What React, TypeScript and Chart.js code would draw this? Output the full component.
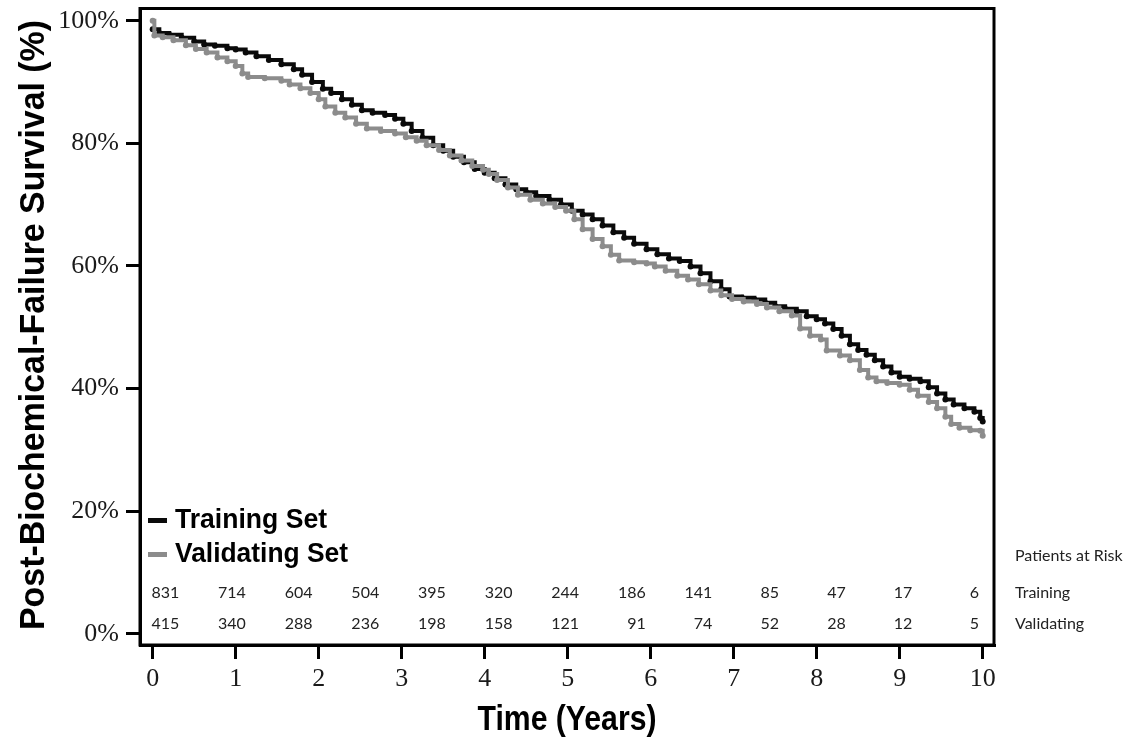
import React, { useEffect, useRef } from "react";
import { Chart, registerables } from "chart.js";

Chart.register(...registerables);

// ---- Data ----
const TRAIN_T = [0.0, 0.08, 0.2, 0.35, 0.5, 0.62, 0.75, 0.9, 1.0, 1.12, 1.25, 1.4, 1.55, 1.7, 1.8, 1.92, 2.05, 2.15, 2.28, 2.4, 2.52, 2.65, 2.8, 2.92, 3.02, 3.12, 3.25, 3.38, 3.5, 3.62, 3.75, 3.88, 4.0, 4.12, 4.25, 4.38, 4.5, 4.62, 4.78, 4.92, 5.05, 5.18, 5.3, 5.42, 5.55, 5.68, 5.8, 5.95, 6.08, 6.22, 6.35, 6.48, 6.6, 6.72, 6.85, 6.95, 7.1, 7.25, 7.38, 7.5, 7.62, 7.76, 7.88, 8.0, 8.1, 8.2, 8.3, 8.4, 8.5, 8.6, 8.7, 8.8, 8.9, 9.0, 9.12, 9.25, 9.35, 9.45, 9.55, 9.65, 9.78, 9.9, 9.97, 10.0];
const TRAIN_S = [98.6, 98.0, 97.7, 97.2, 96.6, 96.1, 95.9, 95.5, 95.3, 94.8, 94.2, 93.6, 92.9, 92.1, 91.2, 90.0, 88.9, 88.2, 87.2, 86.3, 85.4, 85.0, 84.6, 84.0, 83.2, 82.0, 80.9, 79.7, 78.8, 77.8, 76.9, 75.8, 75.2, 74.3, 73.3, 72.5, 72.0, 71.4, 70.8, 70.0, 69.0, 68.4, 67.6, 66.6, 65.5, 64.6, 63.6, 62.7, 61.9, 61.2, 60.8, 59.9, 58.8, 57.5, 56.2, 55.0, 54.8, 54.5, 54.0, 53.4, 53.0, 52.6, 51.8, 51.3, 50.6, 49.7, 48.6, 47.2, 46.3, 45.5, 44.6, 43.6, 42.6, 41.9, 41.6, 41.2, 40.2, 39.2, 38.2, 37.4, 36.8, 36.2, 35.2, 34.6];

const VALID_T = [0.0, 0.02, 0.12, 0.25, 0.4, 0.52, 0.65, 0.78, 0.9, 1.0, 1.08, 1.15, 1.35, 1.55, 1.65, 1.78, 1.9, 2.0, 2.08, 2.2, 2.32, 2.45, 2.58, 2.75, 2.92, 3.05, 3.18, 3.3, 3.45, 3.58, 3.72, 3.85, 3.98, 4.05, 4.15, 4.28, 4.4, 4.55, 4.7, 4.85, 4.98, 5.08, 5.18, 5.3, 5.42, 5.52, 5.62, 5.8, 5.95, 6.05, 6.18, 6.32, 6.45, 6.58, 6.72, 6.85, 6.98, 7.12, 7.28, 7.4, 7.55, 7.7, 7.8, 7.92, 8.05, 8.12, 8.28, 8.4, 8.52, 8.62, 8.72, 8.85, 9.0, 9.12, 9.22, 9.35, 9.45, 9.55, 9.62, 9.72, 9.85, 9.97, 10.0];
const VALID_S = [100.0, 97.6, 97.3, 96.8, 96.0, 95.4, 94.8, 94.0, 93.4, 92.6, 91.4, 90.8, 90.6, 90.2, 89.6, 89.0, 88.2, 87.2, 86.0, 85.0, 84.2, 83.2, 82.4, 82.0, 81.6, 81.0, 80.4, 79.7, 78.9, 78.0, 77.2, 76.3, 75.7, 75.0, 74.0, 72.8, 71.6, 70.8, 70.2, 69.6, 69.0, 67.6, 66.0, 64.4, 63.2, 61.8, 60.9, 60.6, 60.4, 59.9, 59.2, 58.4, 57.8, 57.0, 56.0, 55.2, 54.6, 54.2, 53.8, 53.2, 52.6, 51.9, 49.8, 48.6, 48.0, 46.2, 45.4, 44.6, 43.0, 41.8, 41.2, 40.9, 40.6, 39.8, 38.8, 37.8, 36.8, 35.4, 34.2, 33.6, 33.2, 33.1, 32.3];

const X_TICKS = [0, 1, 2, 3, 4, 5, 6, 7, 8, 9, 10];
const Y_TICKS = [0, 20, 40, 60, 80, 100];

const SERIES_NAMES = ["Training Set", "Validating Set"];
const RISK_TRAINING = [831, 714, 604, 504, 395, 320, 244, 186, 141, 85, 47, 17, 6];
const RISK_VALIDATING = [415, 340, 288, 236, 198, 158, 121, 91, 74, 52, 28, 12, 5];
const RISK_HEADER = "Patients at Risk";
const RISK_ROW_LABELS = ["Training", "Validating"];

const X_TITLE = "Time (Years)";
const Y_TITLE = "Post-Biochemical-Failure Survival (%)";

// ---- Styles ----
const BLACK = "#0a0a0a";
const GRAY = "#8c8c8c";
const SANS = "'Liberation Sans', Arial, sans-serif";
const SERIF = "'Liberation Serif', 'Times New Roman', serif";
const RISK_FONT = "Lato, 'Open Sans', sans-serif";

function fitText(
  ctx: CanvasRenderingContext2D,
  text: string,
  x: number,
  y: number,
  font: string,
  targetWidth: number,
  align: "left" | "center",
  rotate: boolean
) {
  ctx.save();
  ctx.translate(x, y);
  if (rotate) ctx.rotate(-Math.PI / 2);
  ctx.font = font;
  const w = ctx.measureText(text).width;
  ctx.scale(targetWidth / w, 1);
  ctx.textAlign = align;
  ctx.textBaseline = "alphabetic";
  ctx.fillStyle = "#000";
  ctx.fillText(text, 0, 0);
  ctx.restore();
}

const decorPlugin = {
  id: "decor",
  afterDraw(chart: any) {
    const { ctx, chartArea, scales } = chart;
    const xs = scales.x;
    // frame
    ctx.save();
    ctx.strokeStyle = "#000";
    ctx.lineWidth = 3;
    ctx.strokeRect(chartArea.left, chartArea.top, chartArea.right - chartArea.left, chartArea.bottom - chartArea.top);
    ctx.restore();

    // axis titles
    fitText(ctx, X_TITLE, (chartArea.left + chartArea.right) / 2, 730, `bold 35px ${SANS}`, 179, "center", false);
    fitText(ctx, Y_TITLE, 44, 325, `bold 35px ${SANS}`, 610, "center", true);

    // legend
    ctx.save();
    ctx.fillStyle = BLACK;
    ctx.fillRect(148, 518, 19, 5);
    ctx.fillStyle = GRAY;
    ctx.fillRect(148, 552, 19, 5);
    ctx.restore();
    fitText(ctx, SERIES_NAMES[0], 175, 528, `bold 27px ${SANS}`, 152, "left", false);
    fitText(ctx, SERIES_NAMES[1], 175, 562, `bold 27px ${SANS}`, 173, "left", false);

    // risk table
    ctx.save();
    ctx.fillStyle = "#222";
    ctx.font = `16px ${RISK_FONT}`;
    ctx.textBaseline = "alphabetic";
    ctx.textAlign = "right";
    const n = RISK_TRAINING.length;
    for (let i = 0; i < n; i++) {
      const xr = xs.getPixelForValue(0.32 + (i * (9.955 - 0.32)) / (n - 1));
      ctx.fillText(String(RISK_TRAINING[i]), xr, 598);
      ctx.fillText(String(RISK_VALIDATING[i]), xr, 629);
    }
    ctx.textAlign = "left";
    ctx.fillText(RISK_HEADER, 1015, 561);
    ctx.fillText(RISK_ROW_LABELS[0], 1015, 598);
    ctx.fillText(RISK_ROW_LABELS[1], 1015, 629);
    ctx.restore();
  },
};

export default function App() {
  const ref = useRef<HTMLCanvasElement>(null);

  useEffect(() => {
    const canvas = ref.current;
    if (!canvas) return;
    const chart = new Chart(canvas, {
      type: "line",
      data: {
        datasets: [
          {
            label: SERIES_NAMES[1],
            data: VALID_T.map((t, i) => ({ x: t, y: VALID_S[i] })),
            borderColor: GRAY,
            backgroundColor: GRAY,
            borderWidth: 4,
            stepped: "before",
            pointRadius: 3,
            pointBorderWidth: 0,
            pointBackgroundColor: GRAY,
            fill: false,
          },
          {
            label: SERIES_NAMES[0],
            data: TRAIN_T.map((t, i) => ({ x: t, y: TRAIN_S[i] })),
            borderColor: BLACK,
            backgroundColor: BLACK,
            borderWidth: 4,
            stepped: "before",
            pointRadius: 3,
            pointBorderWidth: 0,
            pointBackgroundColor: BLACK,
            fill: false,
          },
        ],
      },
      options: {
        responsive: false,
        devicePixelRatio: 1,
        animation: false,
        layout: { padding: { top: 8.5, right: 141, left: 0, bottom: 0 } },
        plugins: {
          legend: { display: false },
          tooltip: { enabled: false },
          title: { display: false },
        },
        scales: {
          x: {
            type: "linear",
            min: -0.153,
            max: 10.136,
            afterBuildTicks: (s: any) => {
              s.ticks = X_TICKS.map((v) => ({ value: v }));
            },
            afterFit: (s: any) => {
              s.height = 95;
              s.paddingLeft = 0;
              s.paddingRight = 0;
              s.paddingTop = 0;
              s.paddingBottom = 0;
            },
            ticks: {
              autoSkip: false,
              maxRotation: 0,
              padding: 5,
              color: "#1a1a1a",
              font: { family: SERIF, size: 26 },
              callback: (v: any) => String(v),
            },
            grid: {
              drawOnChartArea: false,
              drawTicks: true,
              tickLength: 14,
              lineWidth: 3,
              color: "#000",
            },
            border: { display: true, width: 3, color: "#000" },
            title: { display: false },
          },
          y: {
            type: "linear",
            min: -1.84,
            max: 101.99,
            afterBuildTicks: (s: any) => {
              s.ticks = Y_TICKS.map((v) => ({ value: v }));
            },
            afterFit: (s: any) => {
              s.width = 140;
              s.paddingLeft = 0;
              s.paddingRight = 0;
              s.paddingTop = 0;
              s.paddingBottom = 0;
            },
            ticks: {
              padding: 7,
              color: "#1a1a1a",
              font: { family: SERIF, size: 26 },
              callback: (v: any) => `${v}%`,
            },
            grid: {
              drawOnChartArea: false,
              drawTicks: true,
              tickLength: 14,
              lineWidth: 3,
              color: "#000",
            },
            border: { display: true, width: 3, color: "#000" },
            title: { display: false },
          },
        },
      },
      plugins: [decorPlugin],
    } as any);
    return () => chart.destroy();
  }, []);

  return (
    <canvas
      ref={ref}
      width={1135}
      height={740}
      style={{ position: "fixed", left: 0, top: 0, width: "1135px", height: "740px", background: "#fff" }}
    />
  );
}
